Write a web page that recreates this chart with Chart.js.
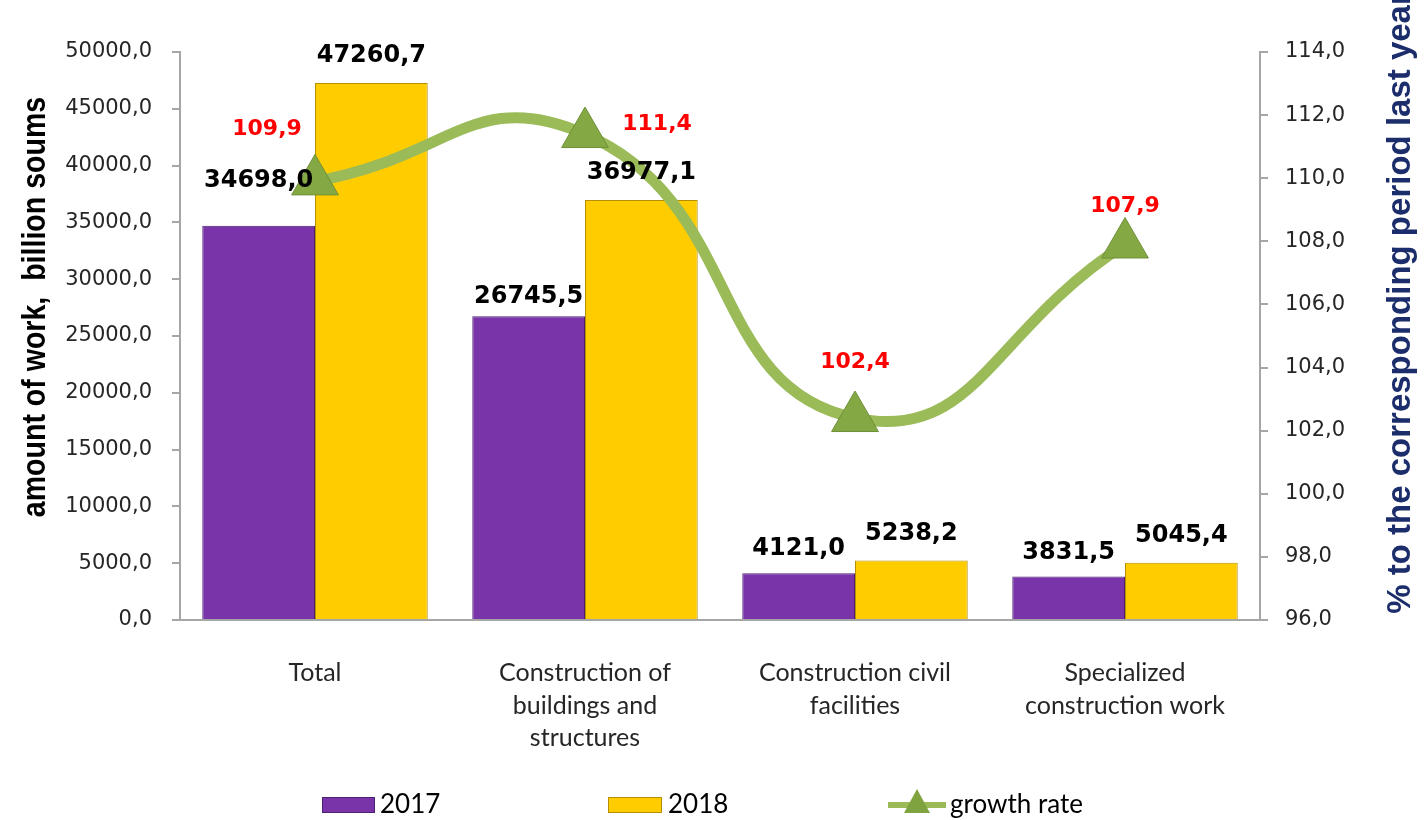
<!DOCTYPE html>
<html>
<head>
<meta charset="utf-8">
<script src="https://cdn.jsdelivr.net/npm/chart.js@4"></script>
<style>
  html, body { margin: 0; padding: 0; background: #fff; }
  #wrap { width: 1424px; height: 820px; position: relative; }
</style>
</head>
<body>
<div id="wrap"><canvas id="chart" width="1424" height="820"></canvas></div>
<script>
const categories = [
    'Total',
    ['Construction of', 'buildings and', 'structures'],
    ['Construction civil', 'facilities'],
    ['Specialized', 'construction work']
];
const values2017 = [34698.0, 26745.5, 4121.0, 3831.5];
const values2018 = [47260.7, 36977.1, 5238.2, 5045.4];
const growthRate = [109.9, 111.4, 102.4, 107.9];
const leftTicks = [0, 5000, 10000, 15000, 20000, 25000, 30000, 35000, 40000, 45000, 50000];
const rightTicks = [96, 98, 100, 102, 104, 106, 108, 110, 112, 114];

const PURPLE = '#7834A8';
const YELLOW = '#FFCC00';
const GREEN = '#9BBB59';
const AXIS_GRAY = '#a6a6a6';

function fmt(v) {
    return v.toFixed(1).replace('.', ',');
}

// value labels, axis titles and the legend
const labelPlugin = {
    id: 'labels',
    afterDatasetsDraw(chart) {
        const ctx = chart.ctx;
        ctx.save();
        ctx.textAlign = 'center';
        ctx.textBaseline = 'middle';
        ctx.font = 'bold 24px "DejaVu Sans"';
        ctx.fillStyle = '#000';
        [0, 1].forEach(di => {
            chart.getDatasetMeta(di).data.forEach((bar, i) => {
                let dy = -27;
                if (di === 0 && i === 0) dy = -45;
                if (di === 0 && i === 1) dy = -19;
                if (di === 0 && i >= 2) dy = -24;
                ctx.fillText(fmt(chart.data.datasets[di].data[i]), bar.x, bar.y + dy);
            });
        });
        const redOffsets = [[-48, -52], [72, -10], [0, -56], [0, -38]];
        ctx.fillStyle = '#ff0000';
        ctx.font = 'bold 22px "DejaVu Sans"';
        chart.getDatasetMeta(2).data.forEach((pt, i) => {
            const o = redOffsets[i];
            ctx.fillText(fmt(growthRate[i]), pt.x + o[0], pt.y + o[1]);
        });
        ctx.restore();
    },
    afterDraw(chart) {
        const ctx = chart.ctx;
        // axis titles
        ctx.save();
        ctx.font = 'bold 34px "Liberation Sans"';
        ctx.textAlign = 'center';
        ctx.textBaseline = 'middle';
        ctx.fillStyle = '#000';
        ctx.translate(36, 307);
        ctx.rotate(-Math.PI / 2);
        ctx.scale(0.84, 1);
        ctx.fillText('amount of work,  billion soums', 0, 0);
        ctx.restore();
        ctx.save();
        ctx.font = 'bold 33px "Liberation Sans"';
        ctx.textAlign = 'center';
        ctx.textBaseline = 'middle';
        ctx.fillStyle = '#1c2d6b';
        ctx.translate(1401, 303);
        ctx.rotate(-Math.PI / 2);
        ctx.fillText('% to the corresponding period last year', 0, 0);
        ctx.restore();

        // legend
        ctx.save();
        const ly = 805;
        ctx.font = '26px Lato';
        ctx.textBaseline = 'middle';
        ctx.textAlign = 'left';
        ctx.fillStyle = PURPLE;
        ctx.strokeStyle = '#4e2170';
        ctx.lineWidth = 1;
        ctx.fillRect(322, ly - 8, 53, 16);
        ctx.strokeRect(322.5, ly - 7.5, 52, 15);
        ctx.fillStyle = '#000';
        ctx.fillText(chart.data.datasets[0].label, 380, ly);
        ctx.fillStyle = YELLOW;
        ctx.strokeStyle = '#b58f00';
        ctx.fillRect(608, ly - 8, 54, 16);
        ctx.strokeRect(608.5, ly - 7.5, 53, 15);
        ctx.fillStyle = '#000';
        ctx.fillText(chart.data.datasets[1].label, 668, ly);
        ctx.strokeStyle = GREEN;
        ctx.lineWidth = 6;
        ctx.beginPath();
        ctx.moveTo(888, ly);
        ctx.lineTo(946, ly);
        ctx.stroke();
        ctx.fillStyle = '#7fa33f';
        ctx.beginPath();
        ctx.moveTo(917, ly - 16);
        ctx.lineTo(930, ly + 8);
        ctx.lineTo(904, ly + 8);
        ctx.closePath();
        ctx.fill();
        ctx.fillStyle = '#000';
        ctx.fillText(chart.data.datasets[2].label, 950, ly);
        ctx.restore();
    }
};

const ctx = document.getElementById('chart').getContext('2d');
new Chart(ctx, {
    data: {
        labels: categories,
        datasets: [
            {
                type: 'bar',
                label: '2017',
                data: values2017,
                backgroundColor: PURPLE,
                borderColor: '#4e2170',
                borderWidth: 1,
                yAxisID: 'y',
                order: 2,
                categoryPercentage: 0.835,
                barPercentage: 1.0
            },
            {
                type: 'bar',
                label: '2018',
                data: values2018,
                backgroundColor: YELLOW,
                borderColor: '#b58f00',
                borderWidth: 1,
                yAxisID: 'y',
                order: 2,
                categoryPercentage: 0.835,
                barPercentage: 1.0
            },
            {
                type: 'line',
                label: 'growth rate',
                data: growthRate,
                borderColor: GREEN,
                borderWidth: 11,
                tension: 0.5,
                pointStyle: 'triangle',
                pointRadius: 27,
                pointBackgroundColor: '#84A843',
                pointBorderColor: '#6f8f37',
                pointBorderWidth: 1,
                yAxisID: 'y1',
                order: 0
            }
        ]
    },
    options: {
        responsive: false,
        animation: false,
        layout: { padding: { top: 52, left: 0, right: 0, bottom: 0 } },
        plugins: {
            legend: { display: false },
            tooltip: { enabled: false }
        },
        scales: {
            x: {
                grid: { display: false },
                border: { display: true, color: AXIS_GRAY, width: 2 },
                ticks: {
                    color: '#262626',
                    font: { family: 'Lato', size: 25, lineHeight: 1.3 },
                    padding: 29,
                    maxRotation: 0,
                    autoSkip: false
                },
                afterFit(scale) { scale.height = 200; }
            },
            y: {
                position: 'left',
                min: 0,
                max: 50000,
                afterBuildTicks(scale) { scale.ticks = leftTicks.map(v => ({ value: v })); },
                grid: { drawOnChartArea: false, tickLength: 8, color: AXIS_GRAY, lineWidth: 2 },
                border: { display: true, color: AXIS_GRAY, width: 2 },
                ticks: {
                    color: '#262626',
                    font: { family: 'DejaVu Sans', size: 21 },
                    padding: 20,
                    callback: v => fmt(v)
                },
                afterFit(scale) { scale.width = 180; }
            },
            y1: {
                position: 'right',
                min: 96,
                max: 114,
                afterBuildTicks(scale) { scale.ticks = rightTicks.map(v => ({ value: v })); },
                grid: { drawOnChartArea: false, tickLength: 8, color: AXIS_GRAY, lineWidth: 2 },
                border: { display: true, color: AXIS_GRAY, width: 2 },
                ticks: {
                    color: '#262626',
                    font: { family: 'DejaVu Sans', size: 21 },
                    padding: 17,
                    callback: v => fmt(v)
                },
                afterFit(scale) { scale.width = 164; }
            }
        }
    },
    plugins: [labelPlugin]
});
</script>
</body>
</html>
